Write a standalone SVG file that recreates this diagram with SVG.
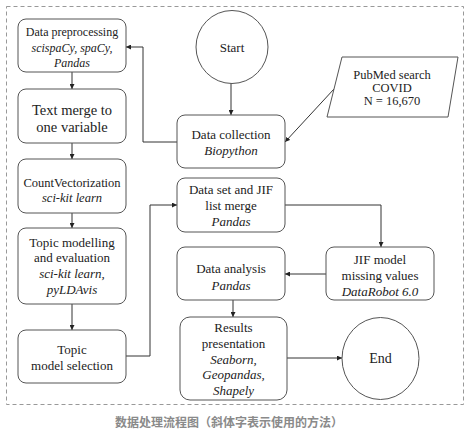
<svg xmlns="http://www.w3.org/2000/svg" width="470" height="433" viewBox="0 0 470 433">
<defs>
<style>
.box{fill:#fff;stroke:#555;stroke-width:1}
.t{fill:#222;text-anchor:middle}
.c{fill:none;stroke:#333;stroke-width:1}
.cap{font-weight:bold;fill:#8a8a8a;text-anchor:middle}
</style>
<marker id="ah" viewBox="0 0 10 10" refX="10" refY="5" markerWidth="5" markerHeight="5" markerUnits="userSpaceOnUse" orient="auto">
<path d="M0,0 L10,5 L0,10 z" fill="#222"/>
</marker>
</defs>
<rect x="0" y="0" width="470" height="433" fill="#fff"/>
<rect x="6.5" y="6.5" width="457" height="398" fill="none" stroke="#999" stroke-width="1" stroke-dasharray="4,3"/>

<g id="connectors">
<path class="c" d="M231,83 V115" marker-end="url(#ah)"/>
<path class="c" d="M177,142 H143 V47 H126" marker-end="url(#ah)"/>
<path class="c" d="M334,89 L285,142" marker-end="url(#ah)"/>
<path class="c" d="M72,72 V89" marker-end="url(#ah)"/>
<path class="c" d="M72,143 V159" marker-end="url(#ah)"/>
<path class="c" d="M72,213 V228" marker-end="url(#ah)"/>
<path class="c" d="M72,304 V330" marker-end="url(#ah)"/>
<path class="c" d="M126,356 H150 V205 H177" marker-end="url(#ah)"/>
<path class="c" d="M285,205 H381 V247" marker-end="url(#ah)"/>
<path class="c" d="M326,274 H285" marker-end="url(#ah)"/>
<path class="c" d="M233,300 V317" marker-end="url(#ah)"/>
<path class="c" d="M287,358 H342" marker-end="url(#ah)"/>
</g>

<g id="start">
<ellipse class="box" cx="232" cy="47" rx="36" ry="36.5"/>
<text class="t" x="232" y="51.5" font-family="Liberation Serif" font-size="13">Start</text>
</g>

<g id="pubmed">
<polygon class="box" points="342,57 458,57 448,117 327,117"/>
<text class="t" x="392" y="79" font-family="Liberation Serif" font-size="12.5">PubMed search</text>
<text class="t" x="392" y="92" font-family="Liberation Serif" font-size="12.5">COVID</text>
<text class="t" x="392" y="105" font-family="Liberation Serif" font-size="12.5">N = 16,670</text>
</g>

<g id="data-collection">
<rect class="box" x="177" y="115" width="108" height="53" rx="8"/>
<text class="t" x="231" y="138.5" font-family="Liberation Serif" font-size="13">Data collection</text>
<text class="t" x="231" y="154.5" font-family="Liberation Serif" font-size="13" font-style="italic">Biopython</text>
</g>

<g id="preprocessing">
<rect class="box" x="18" y="19" width="108" height="53" rx="8"/>
<text class="t" x="72" y="36" font-family="Liberation Serif" font-size="12">Data preprocessing</text>
<text class="t" x="72" y="52" font-family="Liberation Serif" font-size="12" font-style="italic">scispaCy, spaCy,</text>
<text class="t" x="72" y="67" font-family="Liberation Serif" font-size="12" font-style="italic">Pandas</text>
</g>

<g id="text-merge">
<rect class="box" x="18" y="89" width="108" height="54" rx="8"/>
<text class="t" x="72" y="115" font-family="Liberation Serif" font-size="14.5">Text merge to</text>
<text class="t" x="72" y="132" font-family="Liberation Serif" font-size="14.5">one variable</text>
</g>

<g id="count-vectorization">
<rect class="box" x="18" y="159" width="108" height="54" rx="8"/>
<text class="t" x="72" y="186.5" font-family="Liberation Serif" font-size="12.5">CountVectorization</text>
<text class="t" x="72" y="202" font-family="Liberation Serif" font-size="12.5" font-style="italic">sci-kit learn</text>
</g>

<g id="topic-modelling">
<rect class="box" x="18" y="228" width="108" height="76" rx="8"/>
<text class="t" x="72" y="246.5" font-family="Liberation Serif" font-size="13">Topic modelling</text>
<text class="t" x="72" y="261.5" font-family="Liberation Serif" font-size="13">and evaluation</text>
<text class="t" x="72" y="277.5" font-family="Liberation Serif" font-size="13" font-style="italic">sci-kit learn,</text>
<text class="t" x="72" y="293.5" font-family="Liberation Serif" font-size="13" font-style="italic">pyLDAvis</text>
</g>

<g id="topic-selection">
<rect class="box" x="18" y="330" width="108" height="53" rx="8"/>
<text class="t" x="72" y="353.5" font-family="Liberation Serif" font-size="13">Topic</text>
<text class="t" x="72" y="369.5" font-family="Liberation Serif" font-size="13">model selection</text>
</g>

<g id="dataset-merge">
<rect class="box" x="177" y="178" width="108" height="54" rx="8"/>
<text class="t" x="231" y="193.5" font-family="Liberation Serif" font-size="13">Data set and JIF</text>
<text class="t" x="231" y="209.5" font-family="Liberation Serif" font-size="13">list merge</text>
<text class="t" x="231" y="225.5" font-family="Liberation Serif" font-size="13" font-style="italic">Pandas</text>
</g>

<g id="jif-model">
<rect class="box" x="326" y="247" width="108" height="53" rx="8"/>
<text class="t" x="380" y="263.5" font-family="Liberation Serif" font-size="13">JIF model</text>
<text class="t" x="380" y="279.5" font-family="Liberation Serif" font-size="13">missing values</text>
<text class="t" x="380" y="295.5" font-family="Liberation Serif" font-size="13" font-style="italic">DataRobot 6.0</text>
</g>

<g id="data-analysis">
<rect class="box" x="177" y="247" width="108" height="53" rx="8"/>
<text class="t" x="231" y="272.5" font-family="Liberation Serif" font-size="13">Data analysis</text>
<text class="t" x="231" y="289.5" font-family="Liberation Serif" font-size="13" font-style="italic">Pandas</text>
</g>

<g id="results">
<rect class="box" x="180" y="317" width="107" height="83" rx="10"/>
<text class="t" x="233.5" y="331.5" font-family="Liberation Serif" font-size="13">Results</text>
<text class="t" x="233.5" y="347.5" font-family="Liberation Serif" font-size="13">presentation</text>
<text class="t" x="233.5" y="363.5" font-family="Liberation Serif" font-size="13" font-style="italic">Seaborn,</text>
<text class="t" x="233.5" y="378.5" font-family="Liberation Serif" font-size="13" font-style="italic">Geopandas,</text>
<text class="t" x="233.5" y="394.5" font-family="Liberation Serif" font-size="13" font-style="italic">Shapely</text>
</g>

<g id="end">
<ellipse class="box" cx="380.5" cy="358.5" rx="38.5" ry="41"/>
<text class="t" x="380.5" y="363" font-family="Liberation Serif" font-size="14">End</text>
</g>

<text class="cap" x="229" y="427" font-family="Noto Sans CJK SC, sans-serif" font-size="12">数据处理流程图（斜体字表示使用的方法）</text>
</svg>
